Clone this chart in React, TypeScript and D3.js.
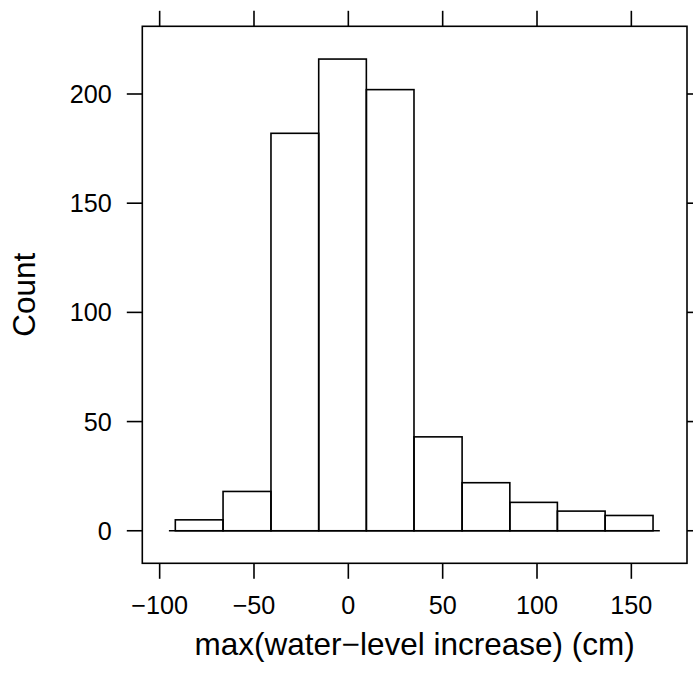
import React from "react";
import * as d3 from "d3";

const counts = [5, 18, 182, 216, 202, 43, 22, 13, 9, 7];
const breaks = [-91.7, -66.4, -41.0, -15.7, 9.55, 34.8, 60.3, 85.6, 110.8, 136.1, 161.5];
const xTicks = [-100, -50, 0, 50, 100, 150];
const yTicks = [0, 50, 100, 150, 200];
const xDomain = [-109.2, 179.5];
const yDomain = [-14.9, 231];
const baselineExtent = [-95.1, 165.1];
const xLabel = "max(water\u2212level increase) (cm)";
const yLabel = "Count";

const W = 693;
const H = 673;
const left = 142.3, right = 687, top = 26.3, bottom = 563.3;
const tickLen = 15.5;
const lw = 1.6;
const font = "'Liberation Sans', Arial, Helvetica, sans-serif";

function fmt(v: number) {
  return v < 0 ? "\u2212" + Math.abs(v) : String(v);
}

export default function App() {
  const x = d3.scaleLinear().domain(xDomain).range([left, right]);
  const y = d3.scaleLinear().domain(yDomain).range([bottom, top]);
  const bins = counts.map((c, i) => ({ x0: breaks[i], x1: breaks[i + 1], c }));

  return (
    <svg
      width={W}
      height={H}
      style={{ position: "absolute", left: 0, top: 0, background: "#fff" }}
    >
      <rect x={0} y={0} width={W} height={H} fill="#fff" />
      {/* bars */}
      {bins.map((b, i) => (
        <rect
          key={i}
          x={x(b.x0)}
          y={y(b.c)}
          width={x(b.x1) - x(b.x0)}
          height={y(0) - y(b.c)}
          fill="none"
          stroke="#000"
          strokeWidth={lw}
        />
      ))}
      {/* baseline */}
      <line
        x1={x(baselineExtent[0])}
        x2={x(baselineExtent[1])}
        y1={y(0)}
        y2={y(0)}
        stroke="#000"
        strokeWidth={lw}
      />
      {/* panel border */}
      <rect
        x={left}
        y={top}
        width={right - left}
        height={bottom - top}
        fill="none"
        stroke="#000"
        strokeWidth={lw}
      />
      {/* x ticks bottom and top */}
      {xTicks.map((t) => (
        <g key={"x" + t}>
          <line x1={x(t)} x2={x(t)} y1={bottom} y2={bottom + tickLen} stroke="#000" strokeWidth={lw} />
          <line x1={x(t)} x2={x(t)} y1={top} y2={top - tickLen} stroke="#000" strokeWidth={lw} />
          <text
            x={x(t)}
            y={613.5}
            textAnchor="middle"
            fontFamily={font}
            fontSize={25.2}
            fill="#000"
          >
            {fmt(t)}
          </text>
        </g>
      ))}
      {/* y ticks left and right */}
      {yTicks.map((t) => (
        <g key={"y" + t}>
          <line x1={left} x2={left - tickLen} y1={y(t)} y2={y(t)} stroke="#000" strokeWidth={lw} />
          <line x1={right} x2={right + tickLen} y1={y(t)} y2={y(t)} stroke="#000" strokeWidth={lw} />
          <text
            x={111.7}
            y={y(t)}
            dy="0.36em"
            textAnchor="end"
            fontFamily={font}
            fontSize={25.2}
            fill="#000"
          >
            {fmt(t)}
          </text>
        </g>
      ))}
      {/* axis labels */}
      <text
        x={(left + right) / 2}
        y={655}
        textAnchor="middle"
        fontFamily={font}
        fontSize={31.5}
        fill="#000"
      >
        {xLabel}
      </text>
      <text
        transform={`translate(35,${(top + bottom) / 2}) rotate(-90)`}
        textAnchor="middle"
        fontFamily={font}
        fontSize={31.5}
        fill="#000"
      >
        {yLabel}
      </text>
    </svg>
  );
}
